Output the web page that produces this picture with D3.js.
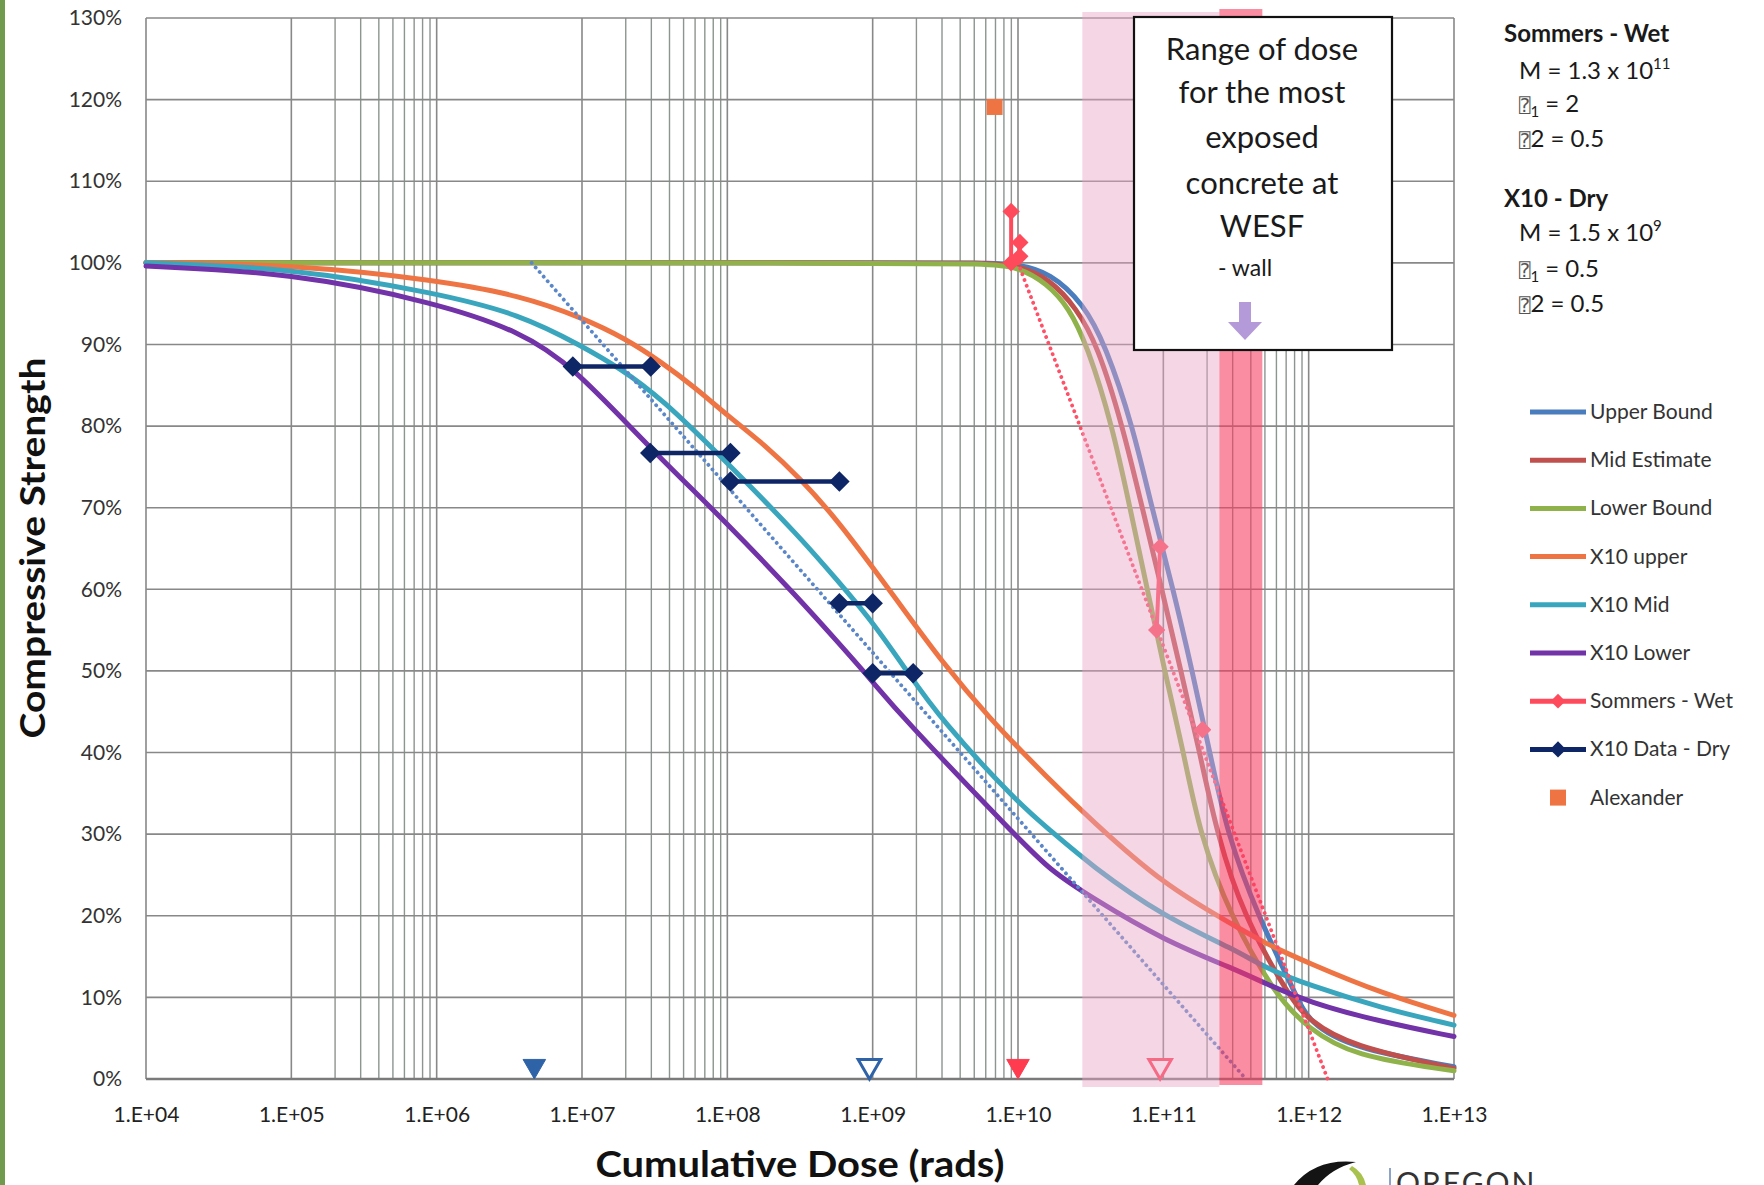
<!DOCTYPE html>
<html><head><meta charset="utf-8">
<script src="https://cdn.jsdelivr.net/npm/d3@7"></script>
<style>
html,body{margin:0;padding:0;background:#fff;overflow:hidden}
svg{display:block}
text{font-family:Lato,"Open Sans",sans-serif}
</style></head><body>
<svg id="c" width="1764" height="1185"></svg>
<script>
// ---------------- data ----------------
const decadeTicks = [1e4,1e5,1e6,1e7,1e8,1e9,1e10,1e11,1e12,1e13];
const percentTicks = [0,0.1,0.2,0.3,0.4,0.5,0.6,0.7,0.8,0.9,1.0,1.1,1.2,1.3];
const minorGridDecades = [1e5,1e7,1e9,1e11];
const minorMultipliers = [2,3,4,5,6,7,8,9];

const upperBound = [[1e4,1.0],[1e9,1.0],[6.3e9,1.0],[1e10,0.998],[1.66e10,0.988],[2.82e10,0.95],[3.98e10,0.90],[6.17e10,0.80],[8.32e10,0.70],[1.17e11,0.60],[1.58e11,0.50],[2.09e11,0.40],[2.75e11,0.30],[4.47e11,0.20],[8.32e11,0.10],[1e12,0.07],[1.95e12,0.038],[1e13,0.015]];
const midEstimate = [[1e4,1.0],[1e9,1.0],[6.3e9,1.0],[1e10,0.997],[1.66e10,0.98],[2.51e10,0.945],[3.51e10,0.90],[5.25e10,0.80],[7.16e10,0.70],[9.77e10,0.60],[1.32e11,0.50],[1.78e11,0.40],[2.34e11,0.30],[3.55e11,0.20],[7.41e11,0.10],[1e12,0.072],[1.95e12,0.04],[1e13,0.013]];
const lowerBound = [[1e4,1.0],[1e9,1.0],[6.3e9,0.999],[1e10,0.995],[1.58e10,0.975],[2.24e10,0.945],[2.98e10,0.90],[4.47e10,0.80],[5.89e10,0.70],[7.76e10,0.60],[1.02e11,0.50],[1.38e11,0.40],[1.78e11,0.30],[2.88e11,0.20],[6.03e11,0.10],[1e12,0.062],[2.0e12,0.028],[1e13,0.01]];
const x10Upper = [[1e4,1.0],[1e5,0.998],[1e6,0.979],[3.76e6,0.96],[1e7,0.933],[2.0e7,0.907],[3.47e7,0.879],[6.03e7,0.847],[1e8,0.813],[1.84e8,0.776],[3.16e8,0.736],[5.58e8,0.687],[1e9,0.627],[1.70e9,0.571],[2.95e9,0.513],[6.17e9,0.444],[1.66e10,0.366],[3.16e10,0.318],[1e11,0.238],[3.16e11,0.187],[4.9e11,0.167],[1e12,0.142],[3.16e12,0.105],[1e13,0.078]];
const x10Mid = [[1e4,1.0],[1e5,0.994],[1e6,0.963],[3.76e6,0.937],[1e7,0.898],[1.82e7,0.871],[3.47e7,0.835],[1e8,0.755],[3.16e8,0.664],[5.58e8,0.613],[1e9,0.56],[1.70e9,0.501],[2.95e9,0.44],[1e10,0.338],[1.66e10,0.305],[3.16e10,0.262],[1e11,0.199],[3.16e11,0.158],[4.9e11,0.137],[1e12,0.115],[3.16e12,0.087],[1e13,0.066]];
const x10Lower = [[1e4,0.996],[1e5,0.988],[1e6,0.951],[3.76e6,0.916],[8.7e6,0.873],[2.85e7,0.775],[1e8,0.681],[3.16e8,0.587],[5.58e8,0.538],[1e9,0.487],[1.51e9,0.448],[1e10,0.295],[1.66e10,0.256],[3.16e10,0.223],[1e11,0.17],[3.16e11,0.134],[4.9e11,0.118],[1e12,0.094],[3.16e12,0.07],[1e13,0.052]];

const sommersWetPairs = [
  [[8.97e9,1.063],[8.97e9,1.0]],
  [[1.03e10,1.025],[1.03e10,1.008]],
  [[9.5e10,0.652],[9.0e10,0.55]],
  [[1.86e11,0.428],[1.86e11,0.428]]
];
const x10DryRanges = [
  [[8.65e6,0.873],[2.97e7,0.873]],
  [[2.95e7,0.767],[1.05e8,0.767]],
  [[1.05e8,0.732],[5.9e8,0.732]],
  [[5.9e8,0.583],[1.0e9,0.583]],
  [[1.0e9,0.497],[1.9e9,0.497]]
];
const alexander = [[6.9e9,1.191]];
const blueTrend = [[4.5e6,1.0],[3.7e11,0.0]];
const redTrend = [[1.0e10,1.0],[1.35e12,0.0]];
const mValueMarkers = [
  {dose:4.7e6, level:0.016, kind:"blueFilled"},
  {dose:9.5e8, level:0.016, kind:"blueOpen"},
  {dose:1.0e10, level:0.016, kind:"redFilled"},
  {dose:9.5e10, level:0.016, kind:"redOpen"}
];
const doseBands = [[2.77e10,2.43e11],[2.43e11,4.8e11]];

const legendLabels = ["Upper Bound","Mid Estimate","Lower Bound","X10 upper","X10 Mid","X10 Lower","Sommers - Wet","X10 Data - Dry","Alexander"];
const annotationLines = ["Range of dose","for the most","exposed","concrete at","WESF"];

// ---------------- styles ----------------
const C = {
  upper:"#4a7dbd", mid:"#c0504d", lower:"#8fb24a",
  x10u:"#ee7444", x10m:"#3aa6be", x10l:"#7232a8",
  wet:"#ff4a5c", dry:"#0e2566", alex:"#ee7444",
  blueTri:"#2f63a8", redTri:"#ff3b50"
};

const svg = d3.select("#c");
const X0 = 146, X1 = 1454, Y0 = 1079, Y1 = 18;
const x = d3.scaleLog().domain([1e4,1e13]).range([X0,X1]);
const y = d3.scaleLinear().domain([0,1.3]).range([Y0,Y1]);

// left green edge
svg.append("rect").attr("x",0).attr("y",0).attr("width",5).attr("height",1185).attr("fill","#709b4e");

// gridlines
const grid = svg.append("g");
grid.selectAll("line.minor")
  .data(minorGridDecades.flatMap(d => minorMultipliers.map(k => d*k)))
  .join("line")
  .attr("x1",d=>x(d)).attr("x2",d=>x(d)).attr("y1",Y1).attr("y2",Y0)
  .attr("stroke","#8c9590").attr("stroke-width",1.4);
grid.selectAll("line.major")
  .data(decadeTicks).join("line")
  .attr("x1",d=>x(d)).attr("x2",d=>x(d)).attr("y1",Y1).attr("y2",Y0)
  .attr("stroke","#888").attr("stroke-width",1.6);
grid.selectAll("line.h")
  .data(percentTicks).join("line")
  .attr("x1",X0).attr("x2",X1).attr("y1",d=>y(d)).attr("y2",d=>y(d))
  .attr("stroke",d=>d===0?"#7a7a7a":"#888").attr("stroke-width",d=>d===0?2.4:1.6);

// curves
const line = d3.line().x(d=>x(d[0])).y(d=>y(d[1])).curve(d3.curveBasis);
const curves = [
  [upperBound,C.upper],[midEstimate,C.mid],[lowerBound,C.lower],
  [x10Upper,C.x10u],[x10Mid,C.x10m],[x10Lower,C.x10l]
];
const cg = svg.append("g").attr("fill","none").attr("stroke-linecap","round");
curves.forEach(([data,col]) => {
  cg.append("path").datum(data).attr("d",line).attr("stroke",col).attr("stroke-width",5);
});

// dotted trend lines
const straight = d3.line().x(d=>x(d[0])).y(d=>y(d[1]));
[[blueTrend,"#5b87c9"],[redTrend,"#ff5068"]].forEach(([data,col]) => {
  cg.append("path").datum(data).attr("d",straight).attr("stroke",col)
    .attr("stroke-width",3.8).attr("stroke-dasharray","0.1 6").attr("stroke-linecap","round");
});

// diamond symbol helper
const diamond = s => d3.symbol(d3.symbolSquare, s)();

// Sommers wet data
const wg = svg.append("g");
sommersWetPairs.forEach(pair => {
  wg.append("path").datum(pair).attr("d",straight).attr("fill","none")
    .attr("stroke",C.wet).attr("stroke-width",4);
  pair.forEach(p => {
    wg.append("path").attr("d",diamond(150))
      .attr("transform",`translate(${x(p[0])},${y(p[1])}) rotate(45)`).attr("fill",C.wet);
  });
});

// X10 dry data
const dg = svg.append("g");
x10DryRanges.forEach(pair => {
  dg.append("path").datum(pair).attr("d",straight).attr("fill","none")
    .attr("stroke",C.dry).attr("stroke-width",4.5);
  pair.forEach(p => {
    dg.append("path").attr("d",diamond(210))
      .attr("transform",`translate(${x(p[0])},${y(p[1])}) rotate(45)`).attr("fill",C.dry);
  });
});

// Alexander
svg.append("g").selectAll("rect").data(alexander).join("rect")
  .attr("x",d=>x(d[0])-8).attr("y",d=>y(d[1])-8).attr("width",16).attr("height",16).attr("fill",C.alex);

// triangle markers
const tri = d3.symbol(d3.symbolTriangle, 220)();
svg.append("g").selectAll("path").data(mValueMarkers).join("path")
  .attr("d",tri)
  .attr("transform",d=>`translate(${x(d.dose)},${y(d.level)}) rotate(180)`)
  .attr("fill",d=>d.kind==="blueFilled"?C.blueTri:d.kind==="redFilled"?C.redTri:"#fff")
  .attr("stroke",d=>d.kind.startsWith("blue")?C.blueTri:C.redTri)
  .attr("stroke-width",d=>d.kind.endsWith("Open")?3:1);

// dose bands (semi-transparent overlays)
const bandStyles = [["#e9a5c6",0.45],["#f83a60",0.58]];
svg.append("g").selectAll("rect").data(doseBands).join("rect")
  .attr("x",d=>x(d[0])).attr("width",d=>x(d[1])-x(d[0]))
  .attr("y",(d,i)=>i===0?12:9).attr("height",(d,i)=>i===0?1075:1076)
  .attr("fill",(d,i)=>bandStyles[i][0]).attr("fill-opacity",(d,i)=>bandStyles[i][1]);

// annotation box
const ab = svg.append("g");
ab.append("rect").attr("x",1134).attr("y",17).attr("width",258).attr("height",333)
  .attr("fill","#fff").attr("stroke","#111").attr("stroke-width",2.2);
const baselines = [60,103,148,194,237];
ab.selectAll("text.a").data(annotationLines).join("text")
  .attr("x",1262).attr("y",(d,i)=>baselines[i]).attr("text-anchor","middle")
  .attr("font-size",31).attr("fill","#1a1a1a").text(d=>d);
ab.append("text").attr("x",1245).attr("y",276).attr("text-anchor","middle")
  .attr("font-size",23).attr("fill","#1a1a1a").text("- wall");
ab.append("path").attr("d","M1239,302 L1251,302 L1251,322 L1262,322 L1245,340 L1228,322 L1239,322 Z")
  .attr("fill","#b49ad8");

// axes
const yAxis = d3.axisLeft(y).tickValues(percentTicks).tickFormat(d3.format(".0%")).tickSize(0).tickPadding(24);
const ya = svg.append("g").attr("transform",`translate(${X0},0)`).call(yAxis);
ya.select(".domain").remove();
ya.selectAll("text").attr("font-family","Lato").attr("font-size",21).attr("fill","#333");

const xAxis = d3.axisBottom(x).tickValues(decadeTicks)
  .tickFormat(d => "1.E+" + String(Math.round(Math.log10(d))).padStart(2,"0"))
  .tickSize(0).tickPadding(28);
const xa = svg.append("g").attr("transform",`translate(0,${Y0})`).call(xAxis);
xa.select(".domain").remove();
xa.selectAll("text").attr("font-family","Lato").attr("font-size",21).attr("fill","#222");

// axis titles
svg.append("text").attr("transform","translate(45,548) rotate(-90)")
  .attr("text-anchor","middle").attr("font-size",34).attr("font-weight","bold").attr("fill","#111")
  .attr("textLength",381).attr("lengthAdjust","spacingAndGlyphs").text("Compressive Strength");
svg.append("text").attr("x",800).attr("y",1177).attr("text-anchor","middle")
  .attr("font-size",36).attr("font-weight","bold").attr("fill","#111")
  .attr("textLength",409).attr("lengthAdjust","spacingAndGlyphs").text("Cumulative Dose (rads)");

// parameter text block
const pt = svg.append("g").attr("fill","#1a1a1a");
function header(txt, yy){ pt.append("text").attr("x",1504).attr("y",yy).attr("font-size",24).attr("font-weight","bold").text(txt); }
function mLine(mant, exp, yy){
  const t = pt.append("text").attr("x",1519).attr("y",yy).attr("font-size",24);
  t.append("tspan").text("M = " + mant + " x 10");
  t.append("tspan").attr("font-size",15).attr("dy",-10).text(exp);
}
function betaLine(sub, rest, yy){
  const t = pt.append("text").attr("x",1519).attr("y",yy).attr("font-size",24);
  t.append("tspan").attr("font-family","DejaVu Sans Mono, DejaVu Sans").attr("font-size",19).attr("fill","#555").text("\u2370");
  if (sub) {
    t.append("tspan").attr("font-size",15).attr("dy",5).text(sub);
    t.append("tspan").attr("dy",-5).text(" " + rest);
  } else {
    t.append("tspan").text(rest);
  }
}
header("Sommers - Wet",42);
mLine("1.3","11",79);
betaLine("1","= 2",112);
betaLine(null,"2 = 0.5",147);
header("X10 - Dry",207);
mLine("1.5","9",241);
betaLine("1","= 0.5",277);
betaLine(null,"2 = 0.5",312);

// legend
const lineKeys = [C.upper,C.mid,C.lower,C.x10u,C.x10m,C.x10l,C.wet,C.dry];
const lg = svg.append("g");
legendLabels.forEach((lab,i) => {
  const yy = 412 + i*48.2;
  if (i < 8) {
    lg.append("line").attr("x1",1530).attr("x2",1586).attr("y1",yy).attr("y2",yy)
      .attr("stroke",lineKeys[i]).attr("stroke-width",5);
    if (i >= 6) lg.append("path").attr("d",diamond(i===6?110:130))
      .attr("transform",`translate(1558,${yy}) rotate(45)`).attr("fill",lineKeys[i]);
  } else {
    lg.append("rect").attr("x",1550).attr("y",yy-8).attr("width",16).attr("height",16).attr("fill",C.alex);
  }
  lg.append("text").attr("x",1590).attr("y",yy+7).attr("font-size",21).attr("fill","#333").text(lab);
});

// logo fragment at bottom
const lo = svg.append("g");
lo.append("path").attr("d","M1294,1185 Q1316,1158 1356,1162 Q1332,1168 1318,1185 Z").attr("fill","#141414");
lo.append("path").attr("d","M1352,1166 Q1363,1172 1366,1185 L1359,1185 Q1357,1175 1349,1169 Z").attr("fill","#a9c24e");
lo.append("rect").attr("x",1389).attr("y",1168).attr("width",2).attr("height",17).attr("fill","#8ea3c9");
lo.append("text").attr("x",1396).attr("y",1194).attr("font-size",30).attr("letter-spacing",2).attr("fill","#333").text("OREGON");
</script>
</body></html>
